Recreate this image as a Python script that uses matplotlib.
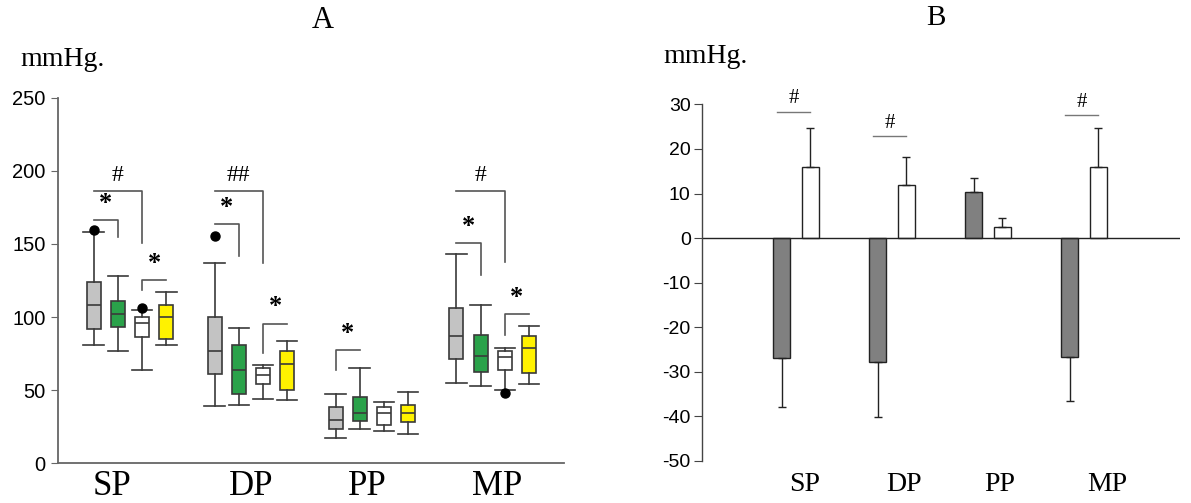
import matplotlib
matplotlib.use('Agg')
import matplotlib.pyplot as plt

plt.rcParams['axes.unicode_minus'] = False

# Panel A: box statistics per category, order = gray, green, white, yellow
categories = ['SP', 'DP', 'PP', 'MP']
box_colors = ['#c3c3c3', '#2aa24a', '#ffffff', '#fff200']

whislo = [[81, 77, 64, 81], [39, 40, 44, 43], [17, 23, 22, 20], [55, 53, 50, 54]]
q1 = [[91.5, 93, 86, 85], [61, 47, 54, 50], [23.5, 29, 26, 28], [71, 62, 63.5, 61.5]]
med = [[108, 102, 96, 100], [77, 63.5, 60.5, 67.5], [29.5, 34, 34, 34], [87, 73.5, 72.5, 79]]
q3 = [[124, 111, 100, 108.5], [100, 80.5, 65, 76.5], [38.5, 45.5, 38.5, 40], [106.5, 88, 76.5, 87]]
whishi = [[158, 128, 105, 117], [137, 92.5, 67, 83.5], [47.5, 65, 42, 48.5], [143, 108, 79, 94]]
fliers = [[[159.5], [], [106], []], [[155.5], [], [], []], [[], [], [], []], [[], [], [48], []]]

# significance brackets: (category, box from, box to, y line, y leg end, leg side, label)
brackets = [
    (0, 0, 2, 186.5, 150.5, 'right', '#'),
    (0, 0, 1, 166.5, 154.5, 'right', '*'),
    (0, 2, 3, 125.5, 118.5, 'left', '*'),
    (1, 0, 2, 186.5, 137, 'right', '##'),
    (1, 0, 1, 163.5, 141.5, 'right', '*'),
    (1, 2, 3, 95.5, 75.5, 'left', '*'),
    (2, 0, 1, 77.5, 64, 'left', '*'),
    (3, 0, 2, 186.5, 138, 'right', '#'),
    (3, 0, 1, 150.5, 129, 'right', '*'),
    (3, 2, 3, 102, 88, 'left', '*'),
]
label_x_a = [-0.15, 1.0, 1.96, 3.04]

# Panel B: change values (gray = first group, white = second group)
change_gray = [-27, -27.8, 10.4, -26.7]
change_gray_err = [10.8, 12.4, 3.1, 9.9]
change_white = [16.0, 12.0, 2.5, 16.0]
change_white_err = [8.6, 6.3, 2.1, 8.6]
hash_y = [28.4, 22.9, None, 27.7]
label_x_b = [0.09, 1.125, 2.125, 3.24]

serif = ['Liberation Serif', 'DejaVu Serif']
sans = ['Liberation Sans', 'DejaVu Sans']
line_gray = '#555555'

fig = plt.figure(figsize=(11.91, 5.03), dpi=100)

# ---------- Panel A ----------
ax = fig.add_axes([0.0487, 0.0795, 0.4249, 0.7257])
offsets = [-0.3, -0.1, 0.1, 0.3]
stats, positions, colors = [], [], []
for i in range(len(categories)):
    for j in range(4):
        stats.append(dict(whislo=whislo[i][j], q1=q1[i][j], med=med[i][j],
                          q3=q3[i][j], whishi=whishi[i][j], fliers=fliers[i][j]))
        positions.append(i + offsets[j])
        colors.append(box_colors[j])

bp = ax.bxp(stats, positions=positions, widths=0.116, capwidths=0.17,
            patch_artist=True, manage_ticks=False,
            boxprops=dict(edgecolor='#3a3a3a', linewidth=1.2),
            medianprops=dict(color='#3a3a3a', linewidth=1.2),
            whiskerprops=dict(color='#3a3a3a', linewidth=1.2),
            capprops=dict(color='#3a3a3a', linewidth=1.2),
            flierprops=dict(marker='o', markerfacecolor='black',
                            markeredgecolor='black', markersize=6.5))
for patch, c in zip(bp['boxes'], colors):
    patch.set_facecolor(c)

for cat, a, b, yl, yleg, side, lab in brackets:
    x0 = cat + offsets[a]
    x1 = cat + offsets[b]
    if side == 'right':
        ax.plot([x0, x1, x1], [yl, yl, yleg], color=line_gray, lw=1.2)
    else:
        ax.plot([x0, x0, x1], [yleg, yl, yl], color=line_gray, lw=1.2)
    ax.text((x0 + x1) / 2, yl + 3.5, lab, ha='center', va='bottom',
            fontsize=19 if lab == '*' else 17, family=serif,
            fontweight='bold' if lab == '*' else 'normal')

ax.set_xlim(-0.595, 3.59)
ax.set_ylim(0, 250)
ax.set_yticks([0, 50, 100, 150, 200, 250])
ax.set_xticks(label_x_a, categories)
ax.tick_params(axis='y', direction='out', length=5, color='#666666',
               labelsize=14.5, pad=4)
ax.tick_params(axis='x', length=0, pad=5, labelsize=25)
for t in ax.get_yticklabels():
    t.set_family(sans)
for t in ax.get_xticklabels():
    t.set_family(serif)
for s in ['top', 'right']:
    ax.spines[s].set_visible(False)
for s in ['left', 'bottom']:
    ax.spines[s].set_color('#666666')
    ax.spines[s].set_linewidth(1.3)

# ---------- Panel B ----------
bx = fig.add_axes([0.5892, 0.0835, 0.4016, 0.709])
xs = list(range(len(categories)))
xg = [x - 0.15 for x in xs]
xw = [x + 0.15 for x in xs]
err_g = [[e if v < 0 else 0 for v, e in zip(change_gray, change_gray_err)],
         [e if v > 0 else 0 for v, e in zip(change_gray, change_gray_err)]]
err_w = [[0] * 4, change_white_err]
bx.bar(xg, change_gray, width=0.174, color='#808080', edgecolor='#222222',
       linewidth=1.0, yerr=err_g, error_kw=dict(ecolor='#222222', elinewidth=1.0,
                                                capsize=3, capthick=1.0))
bx.bar(xw, change_white, width=0.174, color='white', edgecolor='#222222',
       linewidth=1.0, yerr=err_w, error_kw=dict(ecolor='#222222', elinewidth=1.0,
                                                capsize=3, capthick=1.0))
bx.axhline(0, color='#222222', lw=1.0)
for i, hy in enumerate(hash_y):
    if hy is None:
        continue
    bx.plot([xg[i] - 0.05, xw[i]], [hy, hy], color='#777777', lw=1.0)
    bx.text((xg[i] - 0.05 + xw[i]) / 2, hy + 0.7, '#', ha='center', va='bottom',
            fontsize=15, family=serif)

bx.set_xlim(-0.982, 4.0)
bx.set_ylim(-50, 30)
bx.set_yticks(range(-50, 31, 10))
bx.set_xticks(label_x_b, categories)
bx.tick_params(axis='y', direction='out', length=6, color='#444444',
               labelsize=14, pad=2)
bx.tick_params(axis='x', length=0, pad=8, labelsize=20)
for t in bx.get_yticklabels():
    t.set_family(sans)
for t in bx.get_xticklabels():
    t.set_family(serif)
for s in ['top', 'right', 'bottom']:
    bx.spines[s].set_visible(False)
bx.spines['left'].set_color('#444444')
bx.spines['left'].set_linewidth(1.0)

# titles and unit labels
fig.text(323 / 1191, 1 - 20 / 503, 'A', ha='center', va='center', fontsize=22, family=serif)
fig.text(936 / 1191, 1 - 18 / 503, 'B', ha='center', va='center', fontsize=21, family=serif)
fig.text(20 / 1191, 1 - 66 / 503, 'mmHg.', ha='left', va='baseline', fontsize=20, family=serif)
fig.text(663 / 1191, 1 - 63 / 503, 'mmHg.', ha='left', va='baseline', fontsize=20, family=serif)

fig.savefig('out.png', dpi=100)
